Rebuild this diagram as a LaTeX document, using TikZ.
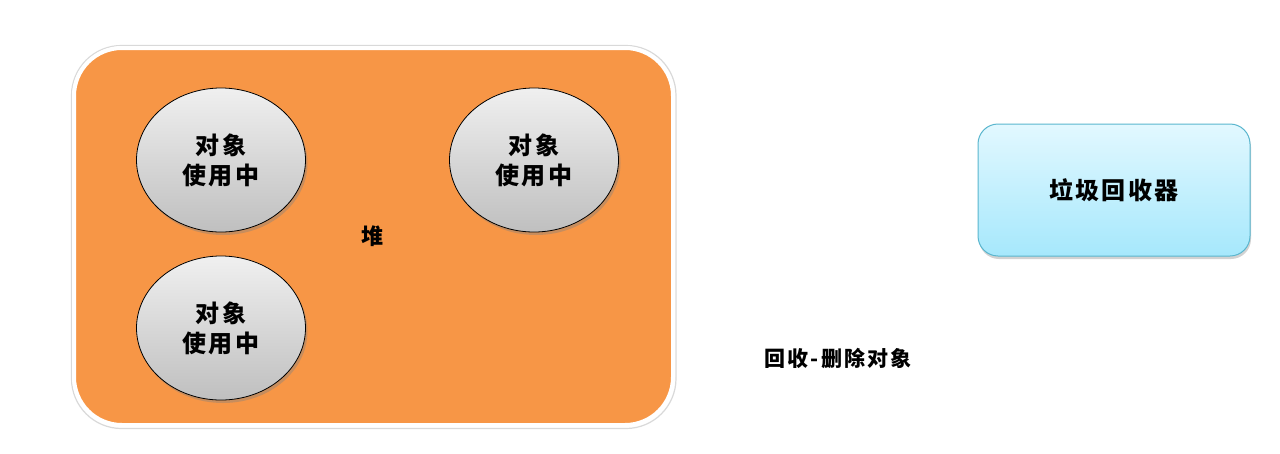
\documentclass[tikz,border=0pt]{standalone}
\usepackage{fontspec}
\newfontfamily\cjk{Noto Sans CJK SC}[LetterSpace=10]
\usetikzlibrary{shadows,shapes.geometric}
\definecolor{heaporange}{HTML}{F79646}
\definecolor{gctop}{HTML}{E2F8FF}
\definecolor{gcbot}{HTML}{A6E8FC}
\definecolor{gcline}{HTML}{5AB6CE}
\tikzset{
  x=1pt,y=-1pt,
  heapbox/.style={draw=white,line width=4pt,fill=heaporange,rounded corners=48pt},
  heaprim/.style={draw=gray!30,line width=1.2pt,rounded corners=50pt},
  objnode/.style={ellipse,draw=black,line width=0.8pt,minimum width=169pt,minimum height=144pt,
     top color=gray!12,bottom color=gray!50,
     drop shadow={shadow xshift=2pt,shadow yshift=-3pt,opacity=0.4},
     align=center,font=\cjk\bfseries\fontsize{24}{30}\selectfont,inner sep=0pt},
  gcbox/.style={draw=gcline,line width=1pt,top color=gctop,bottom color=gcbot,rounded corners=20pt,
     minimum width=272pt,minimum height=132pt,
     drop shadow={shadow xshift=1pt,shadow yshift=-3pt,opacity=0.35},
     font=\cjk\bfseries\fontsize{24}{30}\selectfont},
  lbl/.style={font=\cjk\bfseries\fontsize{22}{26}\selectfont,inner sep=0pt}
}
\begin{document}
\begin{tikzpicture}
\useasboundingbox (0,0) rectangle (1280,453);
\fill[white] (0,0) rectangle (1280,453);
\path[heaprim] (71.5,45.5) rectangle (676,428.5);
\path[heapbox] (74,48) rectangle (673,425);
\node[objnode] (o1) at (221,160) {对象\\使用中};
\node[objnode] (o2) at (534,160) {对象\\使用中};
\node[objnode] (o3) at (221,328) {对象\\使用中};
\node[lbl] (heap) at (372,236) {堆};
\node[gcbox] (gc) at (1114,190) {垃圾回收器};
\node[lbl,font=\cjk\bfseries\fontsize{21}{26}\selectfont] (rec) at (838,358) {回收-删除对象};
\end{tikzpicture}
\end{document}
